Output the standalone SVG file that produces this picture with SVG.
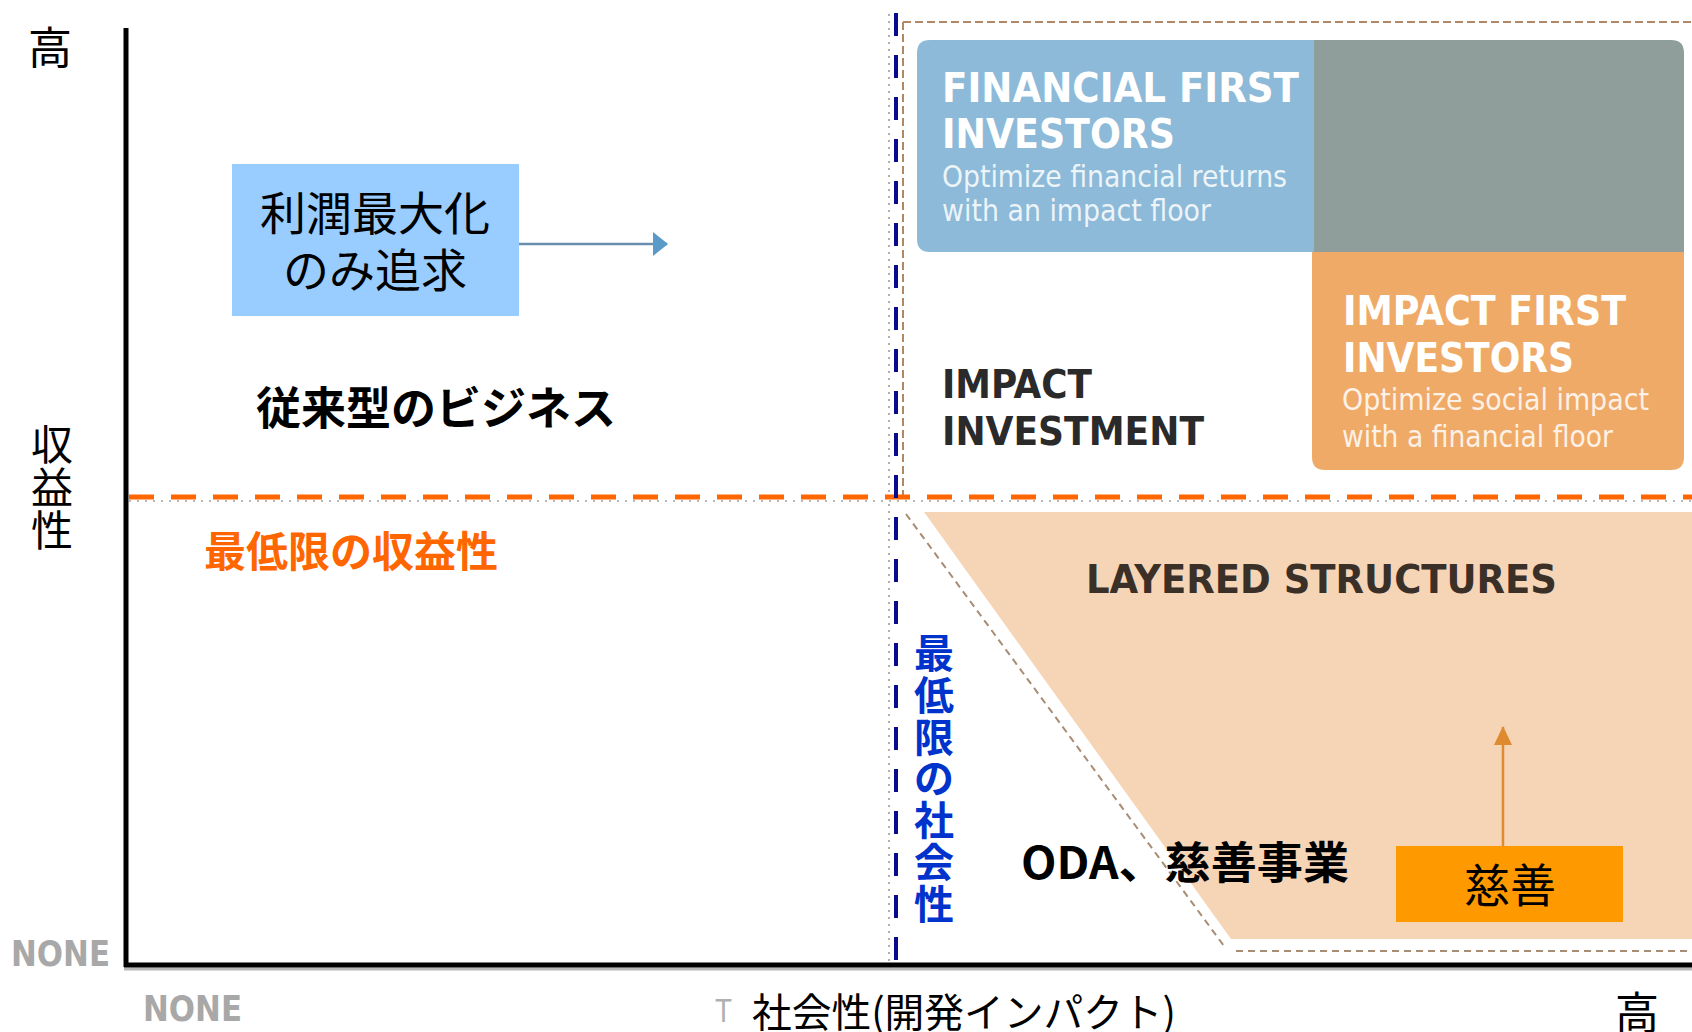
<svg xmlns="http://www.w3.org/2000/svg" width="1692" height="1032" viewBox="0 0 1692 1032">
<style>
.jp{font-family:"Noto Sans CJK JP","Noto Sans",sans-serif;}
.en{font-family:"DejaVu Sans Condensed","DejaVu Sans","Liberation Sans",sans-serif;}
.hd{font-weight:bold;fill:#ffffff;font-size:40px;}
.sub{fill:#ffffff;fill-opacity:0.85;font-size:31px;}
.none{font-family:"DejaVu Sans Condensed","DejaVu Sans",sans-serif;font-weight:bold;fill:#a8a8a8;font-size:36px;}
</style>
<defs>
<marker id="ahBlue" markerWidth="15" markerHeight="26" refX="14" refY="13" orient="auto" markerUnits="userSpaceOnUse">
<path d="M0,1 L15,13 L0,25 Z" fill="#5a9ac8"/>
</marker>
<marker id="ahOrange" markerWidth="19" markerHeight="18" refX="18" refY="9" orient="auto" markerUnits="userSpaceOnUse">
<path d="M0,0 L19,9 L0,18 Z" fill="#e08a30"/>
</marker>
</defs>
<rect width="1692" height="1032" fill="#ffffff"/>

<g id="layered-structures">
<polygon points="924,512 1692,512 1692,939 1231,939" fill="#f6d5b6"/>
<polyline points="906,514 1224,946" fill="none" stroke="#a88c74" stroke-width="2" stroke-dasharray="7,5"/>
<line x1="1236" y1="951" x2="1692" y2="951" stroke="#a88c74" stroke-width="2" stroke-dasharray="7,5"/>
<text class="en" x="1086" y="593" font-size="39" font-weight="bold" fill="#3a3028" textLength="471" lengthAdjust="spacingAndGlyphs">LAYERED STRUCTURES</text>
</g>

<g id="impact-region-border">
<line x1="903" y1="22" x2="1692" y2="22" stroke="#b08866" stroke-width="2" stroke-dasharray="8,4"/>
<line x1="903" y1="22" x2="903" y2="497" stroke="#b08866" stroke-width="2" stroke-dasharray="8,4"/>
<line x1="889" y1="14" x2="889" y2="962" stroke="#b0b0b0" stroke-width="2" stroke-dasharray="2,5"/>
</g>

<g id="financial-first">
<path d="M930,40 H1314 V252 H930 Q917,252 917,239 V53 Q917,40 930,40 Z" fill="#8dbad8"/>
<path d="M1314,40 H1671 Q1684,40 1684,53 V252 H1314 Z" fill="#8f9d9b"/>
<text class="en hd" x="942" y="102" textLength="357" lengthAdjust="spacingAndGlyphs">FINANCIAL FIRST</text>
<text class="en hd" x="942" y="148" textLength="233" lengthAdjust="spacingAndGlyphs">INVESTORS</text>
<text class="en sub" x="942" y="187" textLength="345" lengthAdjust="spacingAndGlyphs">Optimize financial returns</text>
<text class="en sub" x="942" y="221" textLength="269" lengthAdjust="spacingAndGlyphs">with an impact floor</text>
</g>

<g id="impact-first">
<path d="M1312,252 H1684 V457 Q1684,470 1671,470 H1325 Q1312,470 1312,457 Z" fill="#f0aa68"/>
<text class="en hd" x="1343" y="325" textLength="283" lengthAdjust="spacingAndGlyphs">IMPACT FIRST</text>
<text class="en hd" x="1343" y="372" textLength="231" lengthAdjust="spacingAndGlyphs">INVESTORS</text>
<text class="en sub" x="1342" y="410" textLength="307" lengthAdjust="spacingAndGlyphs">Optimize social impact</text>
<text class="en sub" x="1342" y="447" textLength="271" lengthAdjust="spacingAndGlyphs">with a financial floor</text>
</g>

<g id="impact-investment">
<text class="en" x="942" y="398" font-size="39" font-weight="bold" fill="#2a2a2a" textLength="150" lengthAdjust="spacingAndGlyphs">IMPACT</text>
<text class="en" x="942" y="445" font-size="39" font-weight="bold" fill="#2a2a2a" textLength="262" lengthAdjust="spacingAndGlyphs">INVESTMENT</text>
</g>

<g id="axes">
<line x1="126" y1="28" x2="126" y2="967" stroke="#000000" stroke-width="5"/>
<line x1="124" y1="969" x2="1692" y2="969" stroke="#b8b8b8" stroke-width="3"/>
<line x1="124" y1="965" x2="1692" y2="965" stroke="#000000" stroke-width="5"/>
<line x1="129" y1="501" x2="1692" y2="501" stroke="#b8b8b8" stroke-width="2" stroke-dasharray="2,6"/>
<line x1="129" y1="497" x2="1692" y2="497" stroke="#ff6600" stroke-width="5" stroke-dasharray="25,17"/>
<line x1="896" y1="13" x2="896" y2="962" stroke="#0a0a8c" stroke-width="4" stroke-dasharray="23,19"/>
</g>

<g id="axis-labels">
<text class="jp" x="50" y="64" font-size="44" text-anchor="middle" fill="#000">高</text>
<text class="jp" x="52" y="460" font-size="42" text-anchor="middle" fill="#000">収</text>
<text class="jp" x="52" y="503" font-size="42" text-anchor="middle" fill="#000">益</text>
<text class="jp" x="52" y="546" font-size="42" text-anchor="middle" fill="#000">性</text>
<text class="none" x="11" y="966" textLength="99" lengthAdjust="spacingAndGlyphs">NONE</text>
<text class="none" x="143" y="1021" textLength="99" lengthAdjust="spacingAndGlyphs">NONE</text>
<text x="715" y="1022" font-family="Liberation Sans, sans-serif" font-size="34" fill="#b0b0b0" textLength="17" lengthAdjust="spacingAndGlyphs">T</text>
<text class="jp" x="752" y="1027" font-size="40" fill="#000" textLength="424" lengthAdjust="spacingAndGlyphs">社会性(開発インパクト)</text>
<text class="jp" x="1637" y="1029" font-size="44" text-anchor="middle" fill="#000">高</text>
</g>

<g id="profit-max">
<rect x="232" y="164" width="287" height="152" fill="#99ccff"/>
<text class="jp" x="375" y="230" font-size="46" text-anchor="middle" fill="#000">利潤最大化</text>
<text class="jp" x="375" y="287" font-size="46" text-anchor="middle" fill="#000">のみ追求</text>
</g>

<g id="conventional-business">
<text class="jp" x="436" y="425" font-size="45" font-weight="bold" text-anchor="middle" fill="#000">従来型のビジネス</text>
</g>

<g id="min-profit">
<text class="jp" x="204" y="567" font-size="42" font-weight="bold" fill="#ff6600">最低限の収益性</text>
</g>

<g id="min-social">
<text class="jp" font-size="40" font-weight="bold" fill="#0033cc" text-anchor="middle">
<tspan x="934" y="668">最</tspan><tspan x="934" y="710">低</tspan><tspan x="934" y="752">限</tspan><tspan x="934" y="793">の</tspan><tspan x="934" y="835">社</tspan><tspan x="934" y="877">会</tspan><tspan x="934" y="919">性</tspan>
</text>
</g>

<g id="oda">
<text class="jp" x="1021" y="879" font-size="44" font-weight="bold" fill="#000" textLength="328" lengthAdjust="spacingAndGlyphs">ODA、慈善事業</text>
</g>

<g id="charity">
<rect x="1396" y="846" width="227" height="76" fill="#ff9900"/>
<text class="jp" x="1510" y="902" font-size="46" text-anchor="middle" fill="#000">慈善</text>
</g>

<g id="connectors">
<line x1="519" y1="244" x2="667" y2="244" stroke="#6a8fae" stroke-width="2.5" marker-end="url(#ahBlue)"/>
<line x1="1503" y1="846" x2="1503" y2="727" stroke="#e08a30" stroke-width="2.5" marker-end="url(#ahOrange)"/>
</g>
</svg>
